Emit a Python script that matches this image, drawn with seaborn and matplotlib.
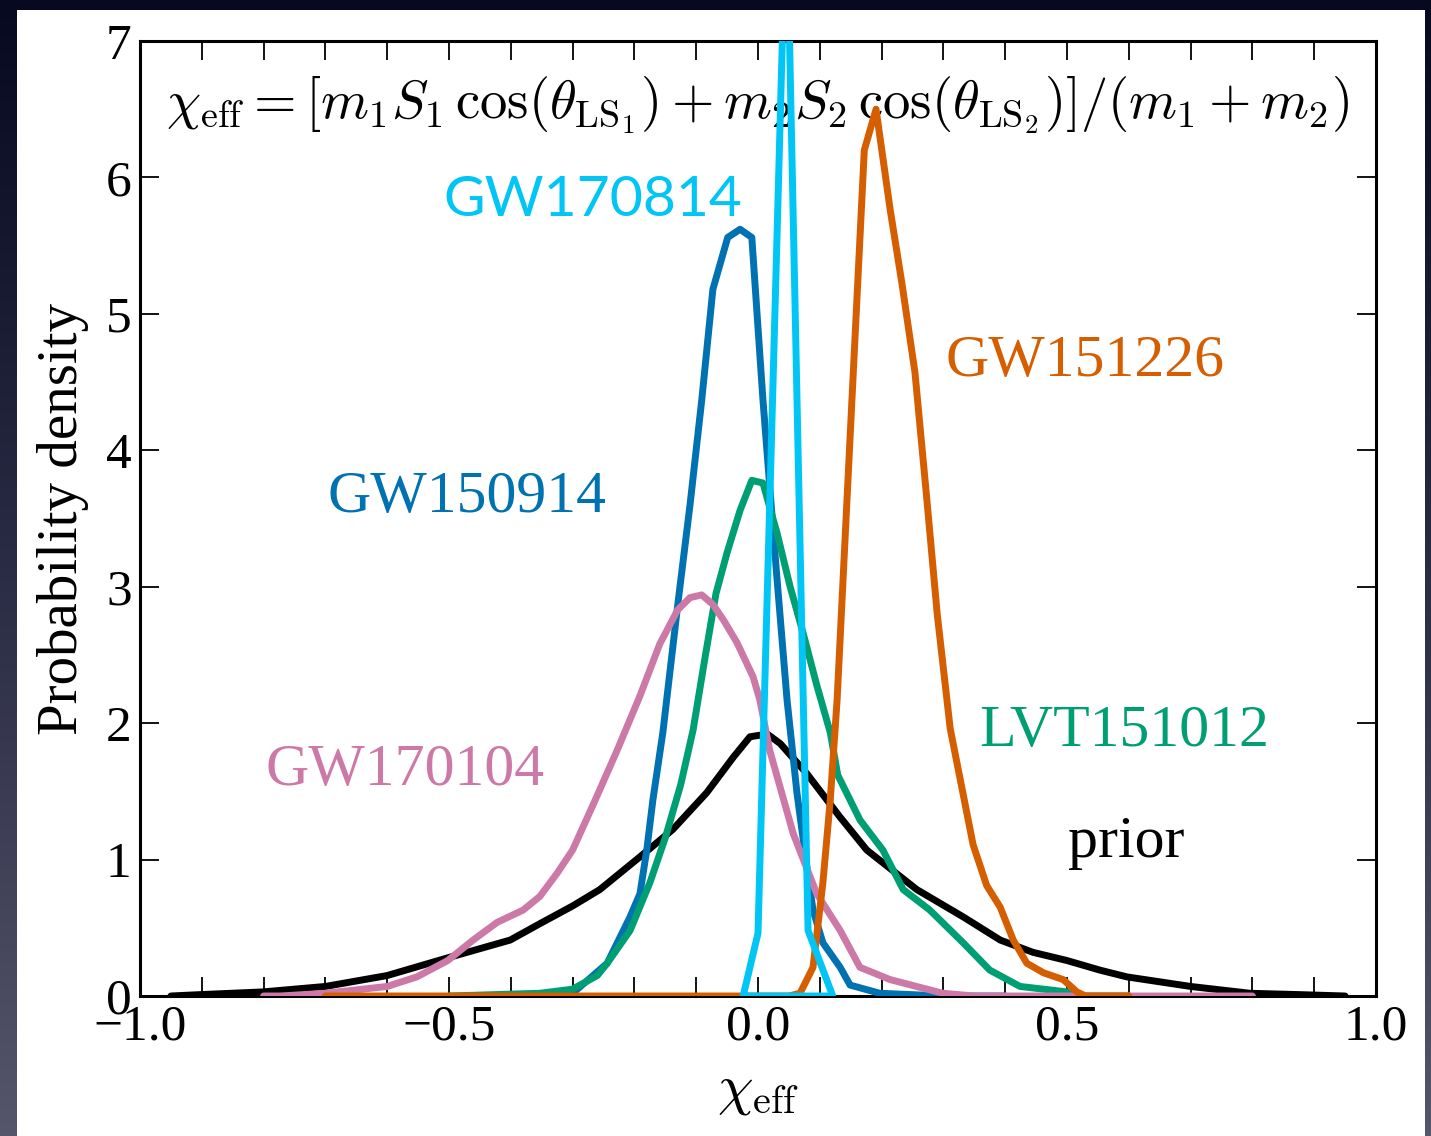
import numpy as np
import pandas as pd
import matplotlib
matplotlib.use("Agg")
import matplotlib.pyplot as plt
from matplotlib.patches import Rectangle
from matplotlib.colors import LinearSegmentedColormap
import seaborn as sns

# ---------------- data ----------------
prior_x = [-0.95, -0.903, -0.801, -0.70, -0.60, -0.502, -0.401, -0.353, -0.30, -0.256, -0.191,
           -0.138, -0.083, -0.040, -0.013, 0.015, 0.036, 0.079, 0.133, 0.176, 0.257, 0.332,
           0.392, 0.445, 0.50, 0.553, 0.597, 0.70, 0.796, 0.877, 0.95]
prior_y = [0.0, 0.01, 0.03, 0.07, 0.15, 0.28, 0.41, 0.53, 0.66, 0.78, 1.02,
           1.22, 1.49, 1.75, 1.90, 1.92, 1.85, 1.63, 1.31, 1.07, 0.78, 0.58,
           0.41, 0.32, 0.26, 0.19, 0.14, 0.07, 0.02, 0.01, 0.0]

gw150914_x = [-0.40, -0.30, -0.244, -0.207, -0.191, -0.180, -0.170, -0.154, -0.129, -0.110,
              -0.091, -0.073, -0.049, -0.029, -0.010, 0.008, 0.030, 0.047, 0.063, 0.079,
              0.089, 0.105, 0.133, 0.149, 0.197, 0.30, 0.40]
gw150914_y = [0.0, 0.02, 0.24, 0.58, 0.75, 1.07, 1.44, 1.93, 2.90, 3.60,
              4.37, 5.18, 5.56, 5.62, 5.56, 4.37, 3.10, 2.17, 1.49, 0.95,
              0.63, 0.39, 0.21, 0.08, 0.02, 0.0, 0.0]

lvt151012_x = [-0.50, -0.353, -0.30, -0.26, -0.244, -0.207, -0.175, -0.150, -0.125, -0.105,
               -0.085, -0.068, -0.050, -0.029, -0.010, 0.008, 0.031, 0.052, 0.073, 0.095,
               0.117, 0.129, 0.165, 0.202, 0.235, 0.278, 0.332, 0.375, 0.424, 0.50, 0.52, 0.60]
lvt151012_y = [0.0, 0.02, 0.05, 0.15, 0.24, 0.48, 0.83, 1.16, 1.55, 1.95,
               2.50, 2.95, 3.25, 3.56, 3.78, 3.76, 3.39, 3.00, 2.66, 2.28,
               1.93, 1.62, 1.29, 1.07, 0.78, 0.63, 0.39, 0.19, 0.07, 0.03, 0.0, 0.0]

gw151226_x = [-0.70, 0.05, 0.068, 0.089, 0.105, 0.117, 0.128, 0.152, 0.172, 0.191, 0.214,
              0.233, 0.254, 0.273, 0.290, 0.311, 0.348, 0.370, 0.392, 0.413, 0.435, 0.462,
              0.494, 0.516, 0.53, 0.60]
gw151226_y = [0.0, 0.0, 0.02, 0.21, 0.83, 1.44, 2.17, 4.37, 6.20, 6.50, 5.76,
              5.22, 4.57, 3.65, 2.80, 1.96, 1.11, 0.81, 0.65, 0.41, 0.24, 0.17,
              0.12, 0.03, 0.0, 0.0]

gw170104_x = [-0.80, -0.773, -0.70, -0.60, -0.552, -0.502, -0.461, -0.422, -0.380, -0.353,
              -0.325, -0.30, -0.265, -0.228, -0.191, -0.159, -0.130, -0.110, -0.091, -0.073,
              -0.055, -0.034, -0.008, 0.003, 0.019, 0.057, 0.095, 0.133, 0.165, 0.214, 0.299,
              0.35, 0.80]
gw170104_y = [0.0, 0.0, 0.02, 0.07, 0.14, 0.26, 0.41, 0.54, 0.63, 0.73,
              0.90, 1.07, 1.42, 1.80, 2.20, 2.58, 2.83, 2.92, 2.94, 2.87,
              2.75, 2.59, 2.34, 2.17, 1.80, 1.19, 0.75, 0.48, 0.21, 0.12, 0.02,
              0.0, 0.0]

gw170814_x = [-0.024, 0.0, 0.046, 0.081, 0.121, -0.024]
gw170814_y = [0.0, 0.46, 8.1, 0.48, 0.0, 0.0]

x_ticks = [-1.0, -0.5, 0.0, 0.5, 1.0]
x_ticklabels = ["\u22121.0", "\u22120.5", "0.0", "0.5", "1.0"]
y_ticks = [0, 1, 2, 3, 4, 5, 6, 7]

# ---------------- style ----------------
sns.set_style("ticks")
plt.rcParams["font.family"] = ["Liberation Serif", "DejaVu Serif"]
plt.rcParams["mathtext.fontset"] = "cm"
plt.rcParams["axes.unicode_minus"] = True
plt.rcParams["text.color"] = "black"
plt.rcParams["axes.labelcolor"] = "black"
plt.rcParams["xtick.color"] = "black"
plt.rcParams["ytick.color"] = "black"

W, H = 1431, 1136
fig = plt.figure(figsize=(W / 100, H / 100), dpi=100)

# background: dark gradient frame with white slide area
ax_bg = fig.add_axes([0, 0, 1, 1], zorder=-10)
cmap_bg = LinearSegmentedColormap.from_list("bg", ["#070920", "#2a2b44", "#55566b"])
grad = np.linspace(0, 1, 256).reshape(-1, 1)
ax_bg.imshow(grad, cmap=cmap_bg, aspect="auto", extent=[0, 1, 0, 1], origin="upper")
ax_bg.add_patch(Rectangle((17 / W, 0), (1425 - 17) / W, (H - 10) / H,
                          transform=ax_bg.transAxes, facecolor="white", edgecolor="none"))
ax_bg.set_xlim(0, 1)
ax_bg.set_ylim(0, 1)
ax_bg.axis("off")

ax = fig.add_axes([140 / W, (H - 996) / H, (1376 - 140) / W, (996 - 41) / H])
ax.set_facecolor("white")

lw = 5.0
curves = [
    (prior_x, prior_y, "black"),
    (gw150914_x, gw150914_y, "#0072B2"),
    (lvt151012_x, lvt151012_y, "#009E73"),
    (gw170104_x, gw170104_y, "#CC79A7"),
    (gw151226_x, gw151226_y, "#D55E00"),
    (gw170814_x, gw170814_y, "#00C5F5"),
]
for i, (xs, ys, c) in enumerate(curves):
    df = pd.DataFrame({"x": xs, "y": ys})
    sns.lineplot(data=df, x="x", y="y", sort=False, estimator=None, color=c,
                 linewidth=lw, ax=ax, zorder=3 + i)

ax.set_xlim(-1.0, 1.0)
ax.set_ylim(0, 7)
ax.set_xticks(x_ticks)
ax.set_xticklabels(x_ticklabels)
ax.set_xticks(np.arange(-1.0, 1.0001, 0.1), minor=True)
ax.set_yticks(y_ticks)
ax.set_yticklabels([str(v) for v in y_ticks])

ax.tick_params(axis="both", which="both", direction="in", top=True, right=True,
               length=14, width=1.3, color="black", labelcolor="black",
               labelsize=37, pad=6)
for s in ax.spines.values():
    s.set_linewidth(2.2)
    s.set_color("black")

ax.set_xlabel(r"$\chi_{\rm eff}$", fontsize=41, labelpad=10, color="black")
ax.set_ylabel("Probability density", fontsize=41, labelpad=12, color="black")

ax.text(0.5, (996 - 105) / (996 - 41),
        r"$\chi_{\rm eff} = [m_1 S_1\, \cos(\theta_{{\rm LS}_1}) + m_2 S_2\, \cos(\theta_{{\rm LS}_2})]/(m_1 + m_2)$",
        ha="center", va="center", fontsize=39.3, zorder=1, transform=ax.transAxes,
        color="black")

lab_size = 43
ax.text((593 - 140) / 618 - 1, (996 - 200) / 136.43, "GW170814", color="#00C5F5",
        fontsize=41, ha="center", va="center", family=["Lato", "DejaVu Sans"], zorder=2)
ax.text((1085 - 140) / 618 - 1, (996 - 362) / 136.43, "GW151226", color="#D55E00",
        fontsize=lab_size, ha="center", va="center", zorder=2)
ax.text((467 - 140) / 618 - 1, (996 - 498) / 136.43, "GW150914", color="#0072B2",
        fontsize=lab_size, ha="center", va="center", zorder=2)
ax.text((1124 - 140) / 618 - 1, (996 - 732) / 136.43, "LVT151012", color="#009E73",
        fontsize=lab_size, ha="center", va="center", zorder=2)
ax.text((405 - 140) / 618 - 1, (996 - 771) / 136.43, "GW170104", color="#CC79A7",
        fontsize=lab_size, ha="center", va="center", zorder=2)
ax.text((1126 - 140) / 618 - 1, (996 - 843) / 136.43, "prior", color="black",
        fontsize=lab_size, ha="center", va="center", zorder=2)

fig.savefig("out.png", dpi=100, facecolor=fig.get_facecolor())
